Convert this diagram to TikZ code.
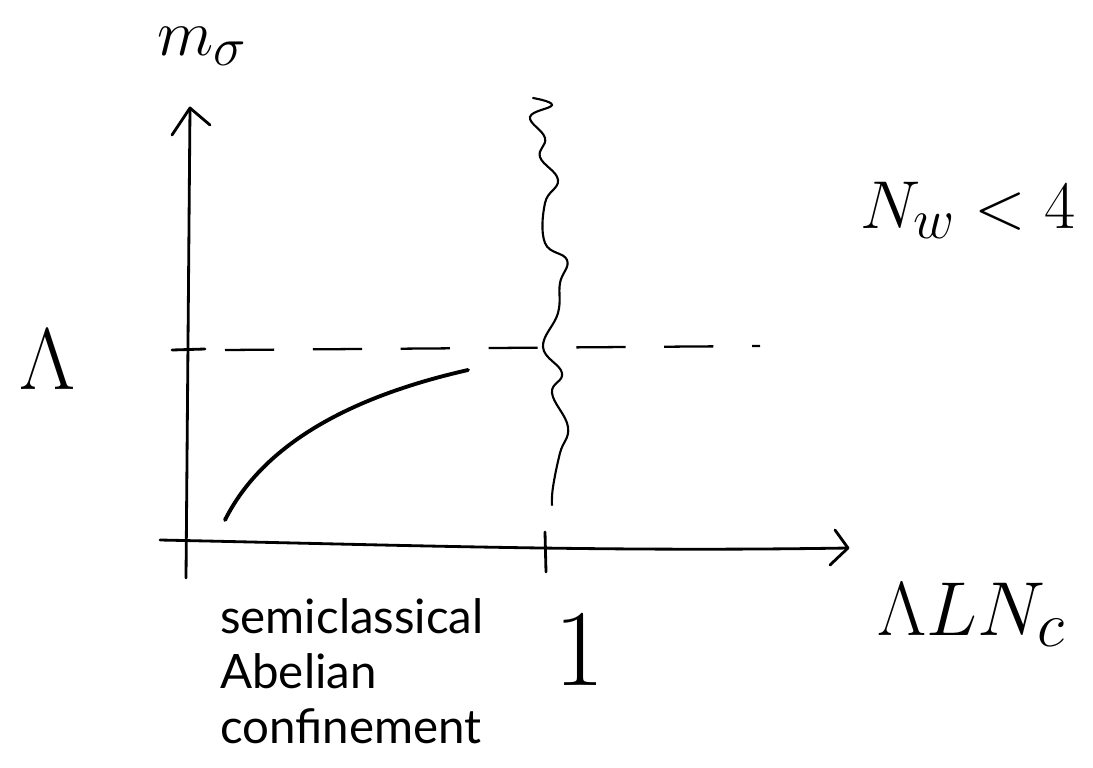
\documentclass[tikz,border=0pt]{standalone}
\usepackage{fontspec}
\setsansfont{Lato}
\usetikzlibrary{arrows.meta}
\begin{document}
\begin{tikzpicture}[x=0.02cm,y=-0.02cm,
  axis/.style={line width=1.6pt, line cap=round},
  chev/.style={line width=1.6pt, line cap=round, line join=round},
  hand/.style={font=\fontsize{24.88}{30}\selectfont, inner sep=0pt},
  typed/.style={font=\sffamily\fontsize{27}{31.5}\selectfont, align=left, anchor=north west, inner sep=0pt}]
\useasboundingbox (0,0) rectangle (1093,768);
% axes
\coordinate (yb) at (186,578);
\coordinate (yt) at (190,108);
\coordinate (xl) at (160,540);
\coordinate (xr) at (848,548);
\draw[axis] (yb) -- (yt);
\draw[chev] (172,135) -- (yt) -- (210,125);
\draw[axis] (xl) .. controls (400,545) and (600,552) .. (xr);
\draw[chev] (835,530) -- (xr) -- (830,565);
% ticks
\coordinate (t1a) at (545,532);
\coordinate (t1b) at (546,572);
\draw[axis] (t1a) -- (t1b);
\coordinate (t2a) at (172,350);
\coordinate (t2b) at (205,349);
\draw[axis] (t2a) -- (t2b);
% dashed line
\coordinate (da) at (225,350);
\coordinate (db) at (760,346);
\draw[line width=1.3pt, dash pattern=on 28pt off 22pt] (da) -- (db);
% curve
\coordinate (ca) at (225,520);
\coordinate (cb) at (468,370);
\draw[line width=2.2pt, line cap=round] (ca) .. controls (270,430) and (380,390) .. (cb);
% wavy line
\draw[line width=1.2pt, line cap=round] plot[smooth, tension=0.7] coordinates {
 (533,98) (552,105) (530,117) (545,138) (540,157) (558,180) (545,203) (545,243)
 (567,260) (560,283) (558,313) (543,347) (562,373) (552,393) (568,427) (560,453)
 (553,487) (552,505)};
% labels
\node[hand, scale=1.5] (ms) at (202,46) {$m_\sigma$};
\node[hand, scale=2] (lam) at (48,360) {$\Lambda$};
\node[hand, scale=1.55] (nw) at (968,210) {$N_w<4$};
\node[hand, scale=1.75] (lln) at (972,615) {$\Lambda L N_c$};
\node[hand, scale=2.5] (one) at (580,650) {$1$};
\node[typed] (txt) at (220,598) {semiclassical\\Abelian\\confinement};
\end{tikzpicture}
\end{document}
